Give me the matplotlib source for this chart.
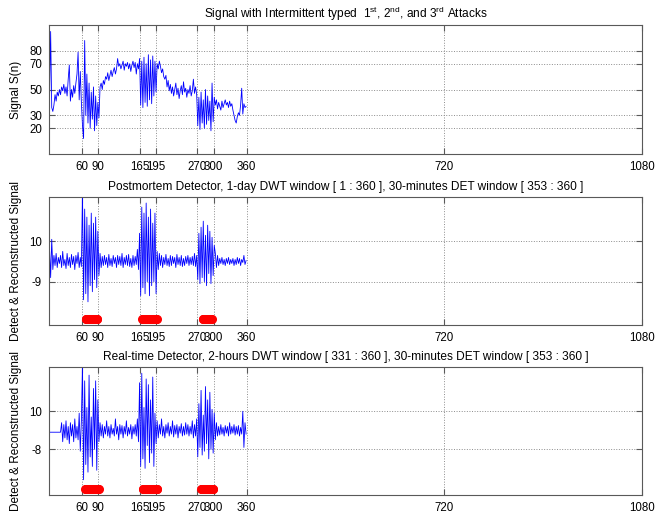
import matplotlib
matplotlib.use("Agg")
import matplotlib.pyplot as plt
import numpy as np

plt.rcParams['font.family'] = ['Liberation Sans', 'DejaVu Sans']
plt.rcParams['font.size'] = 8
plt.rcParams['mathtext.fontset'] = 'custom'
plt.rcParams['mathtext.rm'] = 'Liberation Sans'
plt.rcParams['mathtext.it'] = 'Liberation Sans'

# sample positions (every second sample of the 360-sample day)
n = list(range(1, 361, 2))

# raw signal S(n)
signal = [43, 95, 36, 33, 38, 46, 41, 48, 45, 50,
          46, 52, 49, 54, 47, 52, 45, 58, 69, 41,
          50, 44, 53, 47, 55, 62, 79, 42, 64, 40,
          22, 12, 88, 30, 62, 24, 55, 20, 48, 27,
          52, 18, 45, 22, 40, 28, 52, 55, 50, 57,
          54, 60, 58, 63, 57, 61, 65, 60, 64, 67,
          62, 66, 74, 68, 70, 66, 69, 72, 65, 70,
          68, 71, 66, 70, 64, 69, 72, 67, 71, 62,
          70, 66, 74, 38, 72, 36, 75, 40, 70, 37,
          77, 42, 73, 39, 76, 45, 72, 48, 70, 66,
          72, 68, 63, 66, 60, 58, 61, 52, 57, 49,
          54, 47, 52, 45, 50, 55, 46, 51, 43, 49,
          53, 46, 56, 48, 51, 44, 50, 47, 53, 45,
          49, 58, 47, 52, 46, 22, 44, 19, 48, 24,
          42, 20, 50, 23, 45, 26, 41, 18, 55, 25,
          44, 38, 42, 35, 40, 37, 34, 41, 36, 39,
          42, 38, 40, 36, 41, 37, 39, 34, 30, 26,
          24, 29, 32, 30, 38, 51, 31, 39, 36, 37]

# postmortem detector output
postmortem = [0.6, -0.8, 1.1, -0.4, 0.3, -0.2, 0.4, -0.3, 0.2, -0.1,
              0.3, -0.3, 0.5, -0.2, 0.1, -0.35, 0.4, -0.2, 0.2, -0.3,
              0.35, -0.15, 0.25, -0.4, 0.3, -0.1, 0.45, -0.3, 0.2, -0.25,
              3.5, -1.9, 2.6, -1.6, 2.2, -2.0, 1.8, -1.2, 2.4, -1.5, 1.9, -0.9, 2.2, -1.3, 1.5, -0.7,
              0.4, -0.3, 0.25, -0.2,
              0.3, -0.15, 0.2, -0.3, 0.35, -0.2, 0.15, -0.25, 0.3, -0.1,
              0.2, -0.3, 0.3, -0.15, 0.25, -0.2, 0.4, -0.3, 0.2, -0.15,
              0.3, -0.2, 0.35, -0.25, 0.15, -0.3, 0.3, -0.2, 0.25, -0.15, 0.6, -0.4,
              1.4, -1.7, 2.7, -1.3, 2.4, -1.6, 2.9, -1.0, 2.2, -1.7, 2.6, -1.2, 1.9, -1.0, 2.4, -1.6,
              0.5, -0.4, 0.4, -0.2, 0.3, -0.3, 0.2, -0.15, 0.35, -0.2, 0.15, -0.25,
              0.3, -0.2, 0.25, -0.1, 0.2, -0.3, 0.35, -0.15, 0.2, -0.2,
              0.3, -0.25, 0.15, -0.2, 0.25, -0.1, 0.3, -0.2, 0.2, -0.15, 0.25, -0.2, 0.4, -0.25, 0.3,
              -0.9, 1.4, -1.1, 1.7, -0.8, 2.0, -1.0, 1.3, -1.2, 1.8, -0.6, 1.5, -1.1, 1.2, -0.7, 0.8,
              0.4, -0.3, 0.3, -0.2, 0.15, -0.1, 0.2, -0.15, 0.1, -0.2, 0.15, -0.1, 0.2, -0.15, 0.1,
              -0.1, 0.15, -0.2, 0.1, -0.15, 0.2, -0.1, 0.15, -0.2, 0.1, -0.05, 0.3, -0.15, 0.05]

# real-time detector output
realtime = [-0.1, -0.1, -0.1, -0.1, -0.1, -0.1, -0.1, -0.1, -0.1, -0.1, -0.1,
            0.4, -0.6, 0.3, -0.4, 0.5, -0.5, 0.2, -0.7, 0.4, -0.3, 0.3, -0.6, 0.6, -0.4, 0.2, -0.5, 0.9, -1.1, 0.5,
            3.5, -2.6, 2.6, -1.8, 1.2, -2.2, 2.9, -1.4, 0.7, -1.9, 2.2, -1.0, 2.6, -2.1, 1.6, -0.6, 0.4,
            -0.3, 0.3, -0.4, 0.2, -0.2, 0.5, -0.3, 0.2, -0.4, 0.3, -0.2, 0.1, -0.3, 0.6, -0.2, 0.2, -0.5,
            0.3, -0.2, 0.25, -0.4, 0.2, -0.2, 0.5, -0.3, 0.15, -0.2, 0.3, -0.45, 0.2, -0.2, 0.3, -0.3, 0.6,
            -0.6, 2.5, -1.9, 3.0, -1.5, 1.2, -2.0, 2.7, -0.8, 2.4, -1.7, 1.6, -1.2, 2.8, -1.9, 0.9, -0.7,
            0.5, -0.4, 0.3, -0.2, 0.6, -0.3, 0.2, -0.4, 0.3, -0.15, 0.4, -0.3, 0.2, -0.2, 0.5, -0.35,
            0.25, -0.2, 0.3, -0.4, 0.2, -0.15, 0.35, -0.3, 0.2, -0.25, 0.4, -0.2, 0.3, -0.3, 0.2, -0.2,
            0.5, -0.4, 0.3, -0.3, 0.6,
            -1.4, 1.4, -0.9, 2.1, -1.3, 0.8, -1.1, 2.3, -0.7, 1.6, -1.5, 2.0, -1.0, 1.1, -1.2, 0.9, -0.5,
            0.4, -0.3, 0.2, -0.25, 0.3, -0.2, 0.15, -0.3, 0.25, -0.15, 0.2, -0.3, 0.4, -0.2,
            0.2, -0.15, 0.3, -0.25, 0.2, -0.2, 0.25, -0.3, 0.15, -0.2, 1.0, -0.9, 0.4, -0.2]

# detected attack samples (start, end)
det_post = [(67, 88), (170, 196), (280, 296)]
det_real = [(66, 91), (171, 197), (277, 299)]
flag_post = -2.85
flag_real = -3.09

xtick_pos = [60, 90, 165, 195, 270, 300, 360, 720, 1080]
xtick_lab = ["60", "90", "165", "195", "270", "300", "360", "720", "1080"]

titles = ["Signal with Intermittent typed  1$^{\\rm st}$, 2$^{\\rm nd}$, and 3$^{\\rm rd}$ Attacks",
          "Postmortem Detector, 1-day DWT window [ 1 : 360 ], 30-minutes DET window [ 353 : 360 ]",
          "Real-time Detector, 2-hours DWT window [ 331 : 360 ], 30-minutes DET window [ 353 : 360 ]"]

fig = plt.figure(figsize=(6.72, 5.17), dpi=100)
ax1 = fig.add_axes([0.0729, 0.7021, 0.8824, 0.2495])
ax2 = fig.add_axes([0.0729, 0.3714, 0.8824, 0.2476])
ax3 = fig.add_axes([0.0729, 0.0426, 0.8824, 0.2476])

ax1.plot(n, signal, color='b', lw=0.6)
ax2.plot(n, postmortem, color='b', lw=0.6)
ax3.plot(n, realtime, color='b', lw=0.6)

for a, b in det_post:
    xs = list(range(a, b + 1))
    ax2.plot(xs, [flag_post] * len(xs), 'o', color='r', ms=5.5, mec='r')
for a, b in det_real:
    xs = list(range(a, b + 1))
    ax3.plot(xs, [flag_real] * len(xs), 'o', color='r', ms=5.5, mec='r')

ax1.set_ylim(0, 100)
ax1.set_yticks([20, 30, 50, 70, 80])
ax1.set_ylabel("Signal S(n)", fontsize=8.5)

ax2.set_ylim(-3.15, 3.2)
ax2.set_yticks([-1, 1])
ax2.set_yticklabels(["-9", "10"])
ax2.set_ylabel("Detect & Reconstructed Signal", fontsize=8.5)

ax3.set_ylim(-3.4, 3.33)
ax3.set_yticks([-1, 1])
ax3.set_yticklabels(["-8", "10"])
ax3.set_ylabel("Detect & Reconstructed Signal", fontsize=8.5)

for ax, t in zip([ax1, ax2, ax3], titles):
    ax.set_xlim(0, 1080)
    ax.set_xticks(xtick_pos)
    ax.set_xticklabels(xtick_lab)
    ax.set_title(t, fontsize=8.6, pad=5)
    ax.grid(True, ls=':', color='0.55', lw=0.7)
    ax.tick_params(direction='in', length=4, top=True, right=True, labelsize=8.3, color='0.35', pad=5)
    ax.yaxis.set_label_coords(-0.046, 0.5)
    for s in ax.spines.values():
        s.set_color('0.35')

fig.savefig("out.png", dpi=100)
